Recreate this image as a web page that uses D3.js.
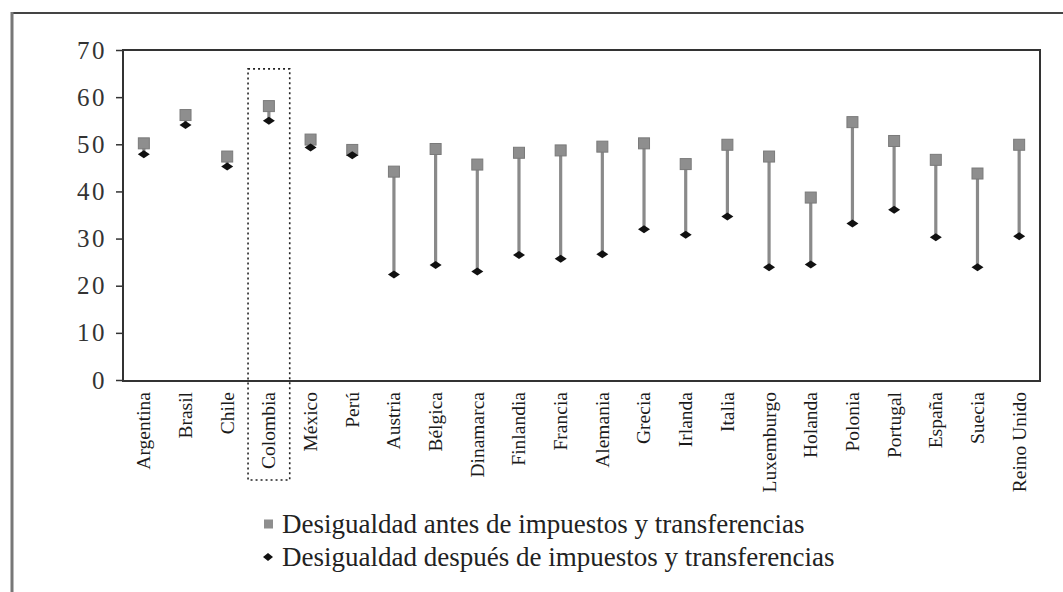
<!DOCTYPE html>
<html><head><meta charset="utf-8">
<script src="https://cdn.jsdelivr.net/npm/d3@7"></script>
<style>
html,body{margin:0;padding:0;background:#fff;}
svg{display:block;}
text{font-family:"Liberation Serif","Times New Roman",serif;}
</style></head>
<body>
<svg id="chart" width="1063" height="592"></svg>
<script>
const categories = ["Argentina","Brasil","Chile","Colombia","México","Perú","Austria","Bélgica","Dinamarca","Finlandia","Francia","Alemania","Grecia","Irlanda","Italia","Luxemburgo","Holanda","Polonia","Portugal","España","Suecia","Reino Unido"];
const antes   = [50.2,56.2,47.4,58.1,51.0,48.8,44.2,49.0,45.7,48.2,48.7,49.5,50.2,45.8,49.9,47.4,38.7,54.7,50.7,46.7,43.8,49.9];
const despues = [47.9,54.1,45.3,55.0,49.3,47.7,22.4,24.4,23.0,26.5,25.7,26.7,32.0,30.8,34.7,23.9,24.5,33.2,36.1,30.3,23.9,30.5];
const yTicks = [0,10,20,30,40,50,60,70];
const highlighted = "Colombia";
const highlightTop = 66;
const legendLabels = ["Desigualdad antes de impuestos y transferencias","Desigualdad después de impuestos y transferencias"];

const svg = d3.select("#chart");
const L = 123, R = 1040, T = 50, B = 381;

// outer frame
svg.append("line").attr("x1",12).attr("x2",1063).attr("y1",13).attr("y2",13).attr("stroke","#444").attr("stroke-width",2);
svg.append("line").attr("x1",12).attr("x2",12).attr("y1",12).attr("y2",592).attr("stroke","#777").attr("stroke-width",3);

const x = d3.scaleBand().domain(categories).range([L,R]).padding(0);
const y = d3.scaleLinear().domain([0,70]).range([380,T]);

// plot frame
svg.append("rect").attr("x",L).attr("y",T).attr("width",R-L).attr("height",B-T)
  .attr("fill","none").attr("stroke","#333").attr("stroke-width",2);

// y axis
const yAxis = d3.axisLeft(y).tickValues(yTicks).tickSize(7).tickPadding(9);
const gy = svg.append("g").attr("transform",`translate(${L},0)`).call(yAxis);
gy.select(".domain").remove();
gy.selectAll("line").attr("stroke","#333").attr("stroke-width",1.5);
gy.selectAll("text").attr("font-size",25).attr("letter-spacing","2.5px").attr("fill","#333").attr("font-family","Liberation Serif, serif");

// x labels
const xAxis = d3.axisBottom(x).tickSize(0).tickPadding(0);
const gx = svg.append("g").attr("transform",`translate(0,${B})`).call(xAxis);
gx.select(".domain").remove();
gx.selectAll("text")
  .attr("font-size",19.5).attr("fill","#1a1a1a").attr("font-family","Liberation Serif, serif")
  .attr("text-anchor","end")
  .attr("transform","rotate(-90)")
  .attr("x",-11).attr("y",0).attr("dy","0.33em");

// highlight box
svg.append("rect").attr("x",x(highlighted)).attr("y",y(highlightTop))
  .attr("width",x.bandwidth()).attr("height",480 - y(highlightTop))
  .attr("fill","none").attr("stroke","#222").attr("stroke-width",1.6).attr("stroke-dasharray","2,3");

const cx = d => x(d) + x.bandwidth()/2;

// connecting lines
svg.append("g").selectAll("line").data(categories).join("line")
  .attr("x1",cx).attr("x2",cx)
  .attr("y1",(d,i)=>y(antes[i])).attr("y2",(d,i)=>y(despues[i]))
  .attr("stroke","#8a8a8a").attr("stroke-width",3.2);

// squares
const s = 11;
svg.append("g").selectAll("rect").data(categories).join("rect")
  .attr("x",d=>cx(d)-s/2).attr("y",(d,i)=>y(antes[i])-s/2)
  .attr("width",s).attr("height",s)
  .attr("fill","#8e8e8e").attr("stroke","#7a7a7a").attr("stroke-width",1);

// diamonds
const dw = 6, dh = 4;
svg.append("g").selectAll("path").data(categories).join("path")
  .attr("d",(d,i)=>{const px=cx(d), py=y(despues[i]); return `M${px-dw},${py} L${px},${py-dh} L${px+dw},${py} L${px},${py+dh} Z`;})
  .attr("fill","#111");

// legend
const lg = svg.append("g");
const ly = [524, 557];
lg.append("rect").attr("x",264).attr("y",ly[0]-4.5).attr("width",9).attr("height",9).attr("fill","#8e8e8e");
lg.append("path").attr("d",`M263,${ly[1]} L268,${ly[1]-4} L273,${ly[1]} L268,${ly[1]+4} Z`).attr("fill","#111");
lg.selectAll("text").data(legendLabels).join("text")
  .attr("x",282).attr("y",(d,i)=>ly[i]).attr("dy","0.32em")
  .attr("font-size",27).attr("fill","#222").text(d=>d);
</script>
</body></html>
